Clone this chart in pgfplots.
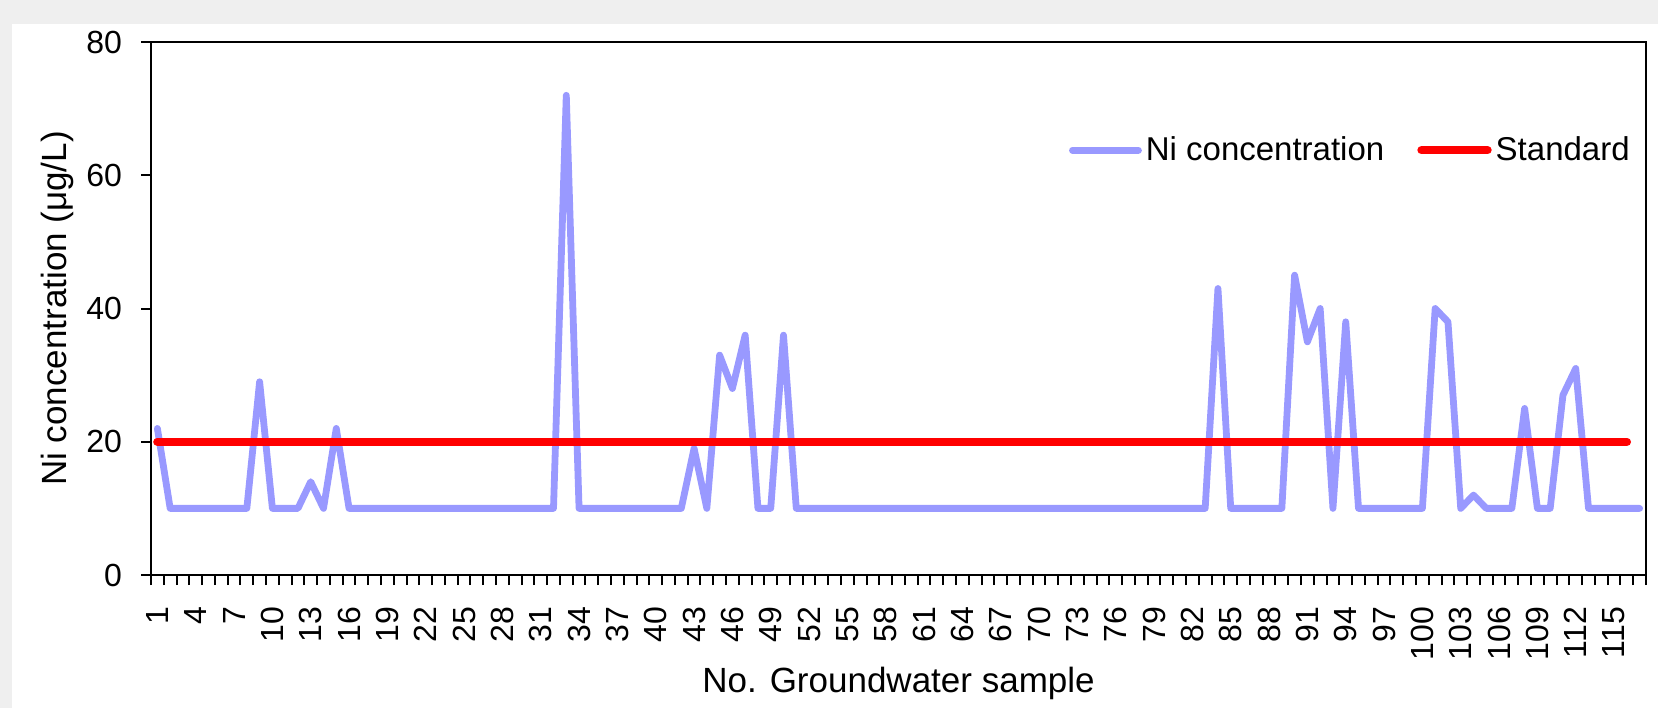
\documentclass[border=0pt]{standalone}
\usepackage{fontspec}
\setmainfont{Liberation Sans}
\usepackage{pgfplots}
\usepackage{pgfplotstable}
\pgfplotsset{compat=1.18}

\definecolor{niblue}{HTML}{9999FF}
\definecolor{stdred}{HTML}{FF0000}
\definecolor{framegray}{HTML}{EFEFEF}

% Ni concentration per groundwater sample
\pgfplotstableread{
x y
1 22
2 10
3 10
4 10
5 10
6 10
7 10
8 10
9 29
10 10
11 10
12 10
13 14
14 10
15 22
16 10
17 10
18 10
19 10
20 10
21 10
22 10
23 10
24 10
25 10
26 10
27 10
28 10
29 10
30 10
31 10
32 10
33 72
34 10
35 10
36 10
37 10
38 10
39 10
40 10
41 10
42 10
43 19
44 10
45 33
46 28
47 36
48 10
49 10
50 36
51 10
52 10
53 10
54 10
55 10
56 10
57 10
58 10
59 10
60 10
61 10
62 10
63 10
64 10
65 10
66 10
67 10
68 10
69 10
70 10
71 10
72 10
73 10
74 10
75 10
76 10
77 10
78 10
79 10
80 10
81 10
82 10
83 10
84 43
85 10
86 10
87 10
88 10
89 10
90 45
91 35
92 40
93 10
94 38
95 10
96 10
97 10
98 10
99 10
100 10
101 40
102 38
103 10
104 12
105 10
106 10
107 10
108 25
109 10
110 10
111 27
112 31
113 10
114 10
115 10
116 10
117 10
}\nidata

\begin{document}
\begin{tikzpicture}
% chart area frame
\fill[framegray] (-75.5pt,-66.5pt) rectangle (753.5pt,287.5pt);
\fill[white] (-69.5pt,-66.5pt) rectangle (753.5pt,275.5pt);
\begin{axis}[
    at={(0pt,0pt)}, anchor=south west,
    scale only axis,
    width=747.5pt, height=266.5pt,
    xmin=0.5, xmax=117.5,
    ymin=0, ymax=80,
    xtick={1,4,...,115},
    minor xtick={0.5,1.5,...,117.5},
    ytick={0,20,...,80},
    xtick pos=bottom, ytick pos=left,
    tick align=outside,
    major tick length=5pt,
    minor tick length=5pt,
    major x tick style={draw=none},
    every tick/.style={black, line width=1pt},
    axis line style={black, line width=1pt},
    tick label style={font=\fontsize{16}{19}\selectfont},
    xticklabel style={rotate=90, anchor=east, xshift=-7.5pt},
    yticklabel style={xshift=-6pt},
    /pgf/number format/assume math mode=true,
    xlabel={No. Groundwater sample},
    xlabel style={font=\fontsize{17.5}{21}\selectfont, at={(axis description cs:0.5,0)}, anchor=base, yshift=-58.5pt},
    ylabel={Ni concentration (μg/L)},
    ylabel style={font=\fontsize{17.5}{21}\selectfont, at={(axis description cs:-0.0629,0.5)}, anchor=center},
    legend columns=2,
    legend style={at={(0.992,0.797)}, anchor=east, draw=none, fill=none,
        font=\fontsize{16.5}{19}\selectfont, inner sep=0pt,
        /tikz/every even column/.append style={column sep=14.5pt}},
    legend image code/.code={\draw[#1] (0pt,0pt) -- (33pt,0pt);},
]
\addplot[niblue, line width=3.4pt, line cap=round, line join=round, mark=none] table[x=x, y=y] {\nidata};
\addlegendentry{Ni concentration}
\addplot[stdred, line width=4.2pt, line cap=round, mark=none] coordinates {(1,20) (116,20)};
\addlegendentry{Standard}
\end{axis}
\pgfresetboundingbox
\path (-75.5pt,-66.5pt) rectangle (753.5pt,287.5pt);
\end{tikzpicture}
\end{document}
